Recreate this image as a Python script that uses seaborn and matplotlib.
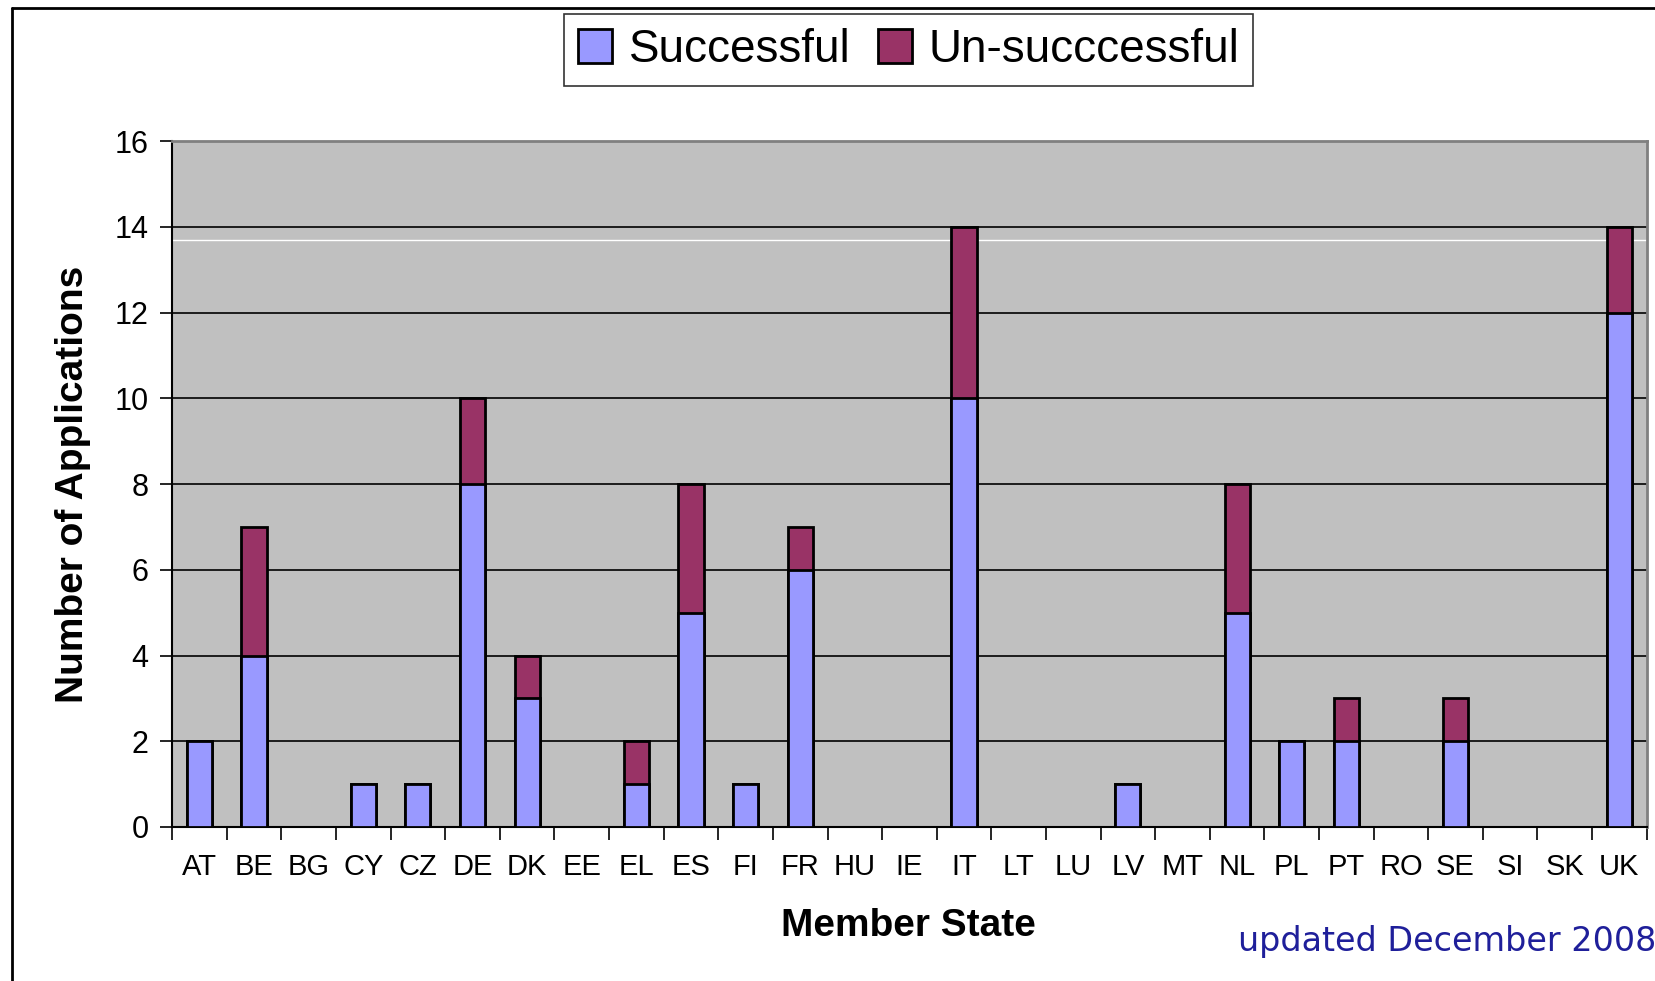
import numpy as np
import pandas as pd
import matplotlib
matplotlib.use("Agg")
import matplotlib.pyplot as plt
import seaborn as sns
from matplotlib.patches import Patch
from matplotlib.lines import Line2D
from matplotlib.ticker import FixedLocator

# Data
states = ['AT', 'BE', 'BG', 'CY', 'CZ', 'DE', 'DK', 'EE', 'EL', 'ES', 'FI', 'FR', 'HU', 'IE',
          'IT', 'LT', 'LU', 'LV', 'MT', 'NL', 'PL', 'PT', 'RO', 'SE', 'SI', 'SK', 'UK']
successful = [2, 4, 0, 1, 1, 8, 3, 0, 1, 5, 1, 6, 0, 0,
              10, 0, 0, 1, 0, 5, 2, 2, 0, 2, 0, 0, 12]
unsuccessful = [0, 3, 0, 0, 0, 2, 1, 0, 1, 3, 0, 1, 0, 0,
                4, 0, 0, 0, 0, 3, 0, 1, 0, 1, 0, 0, 2]

df = pd.DataFrame({'state': states, 'ok': successful, 'fail': unsuccessful})
df['total'] = df['ok'] + df['fail']

col_ok = '#9999FF'
col_fail = '#993366'

sns.set_style('white')
plt.rcParams['font.family'] = ['Liberation Sans', 'DejaVu Sans']
plt.rcParams.update({'text.color': 'black', 'axes.labelcolor': 'black',
                     'xtick.color': 'black', 'ytick.color': 'black'})

fig = plt.figure(figsize=(16.55, 9.81), dpi=100)
ax = fig.add_axes([0.104, 0.157, 0.891, 0.699])
ax.set_facecolor('#C0C0C0')

# stacked bars: total first (un-successful on top), successful drawn over it
sns.barplot(data=df, x='state', y='total', color=col_fail, saturation=1,
            width=0.46, edgecolor='black', linewidth=2, ax=ax, zorder=3)
sns.barplot(data=df, x='state', y='ok', color=col_ok, saturation=1,
            width=0.46, edgecolor='black', linewidth=2, ax=ax, zorder=4)

ax.set_ylim(0, 16)
ax.set_xlim(-0.5, len(states) - 0.5)
ax.set_yticks(range(0, 17, 2))
for v in range(2, 16, 2):
    ax.axhline(v, color='black', lw=1.2, zorder=1)
ax.axhline(13.7, color='white', lw=1, zorder=1)

ax.tick_params(axis='y', labelsize=22, length=9, width=1.2, direction='out', pad=8, left=True)
ax.tick_params(axis='x', which='major', labelsize=21, length=0, pad=19)
ax.xaxis.set_minor_locator(FixedLocator(np.arange(-0.5, len(states), 1)))
ax.tick_params(axis='x', which='minor', length=9, width=1.2, direction='out', bottom=True)

for s in ['left', 'bottom']:
    ax.spines[s].set_color('black')
    ax.spines[s].set_linewidth(1.5)
for s in ['top', 'right']:
    ax.spines[s].set_color('#808080')
    ax.spines[s].set_linewidth(2)

ax.set_xlabel('Member State', fontsize=28, fontweight='bold', va='top')
ax.set_ylabel('Number of Applications', fontsize=28, fontweight='bold')
ax.xaxis.set_label_coords(0.499, -0.118)
ax.yaxis.set_label_coords(-0.055, 0.5)

handles = [Patch(facecolor=col_ok, edgecolor='black', lw=2),
           Patch(facecolor=col_fail, edgecolor='black', lw=2)]
leg = fig.legend(handles, ['Successful', 'Un-succcessful'], loc='center',
                 bbox_to_anchor=(0.549, 0.949), ncol=2, fontsize=33, frameon=True,
                 fancybox=False, edgecolor='black', handlelength=0.75, handleheight=0.75,
                 handletextpad=0.35, columnspacing=0.6, borderpad=0.3)
leg.get_frame().set_linewidth(1.2)

fig.text(0.748, 0.040, 'updated December 2008', color='#1F1F9A', fontsize=24,
         family='DejaVu Sans', va='center', ha='left')

# outer chart frame (top and left edges visible)
fig.add_artist(Line2D([0.0075, 1.0], [0.992, 0.992], color='black', lw=2, transform=fig.transFigure))
fig.add_artist(Line2D([0.0075, 0.0075], [0.0, 0.992], color='black', lw=2, transform=fig.transFigure))

plt.savefig('out.png', dpi=100)
